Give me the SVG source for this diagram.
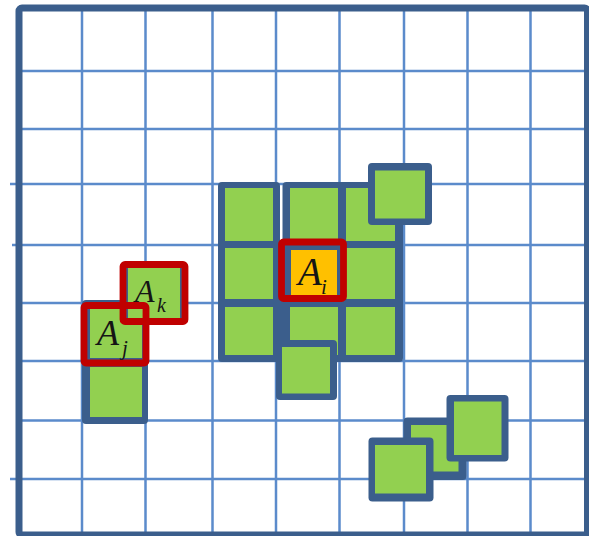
<svg xmlns="http://www.w3.org/2000/svg" width="589" height="536" viewBox="0 0 589 536">
<style>
.grid{stroke:#5B8BCB;stroke-width:2.5;fill:none}
.frame{stroke:#3B5E8C;stroke-width:7;fill:none}
.dk{fill:#3B5E8C}
.gr{fill:#92D050}
.or{fill:#FFC000}
.red{fill:none;stroke:#C00000;stroke-width:6.8}
.lbl{font-family:"Liberation Serif","Times New Roman",serif;font-style:italic;fill:#151515}
</style>
<rect width="589" height="536" fill="#ffffff"/>
<g id="grid">
<path class="grid" d="M82 8V535M145.5 8V535M212.5 8V535M276 8V535M339.5 8V535M404 8V535M467.5 8V535M530.5 8V535"/>
<path class="grid" d="M19 71H587M19 129H587M10 184H587M12 245H587M19 303H587M19 361H587M19 420.5H587M10 479H587"/>
<rect class="frame" x="19" y="8" width="568.5" height="527" rx="3"/>
</g>
<g id="cluster-center">
<rect class="dk" x="218" y="182" width="62" height="180" rx="4"/>
<rect class="dk" x="282.5" y="182" width="120.5" height="180" rx="4"/>
<rect class="dk" x="277" y="240" width="8" height="122"/>
<rect class="gr" x="225" y="188" width="48" height="53"/>
<rect class="gr" x="290" y="188" width="48" height="53"/>
<rect class="gr" x="346" y="188" width="49" height="53"/>
<rect class="gr" x="225" y="248" width="48" height="51"/>
<rect class="gr" x="346" y="248" width="49" height="51"/>
<rect class="gr" x="225" y="307" width="48" height="48"/>
<rect class="gr" x="290" y="307" width="48" height="48"/>
<rect class="gr" x="346" y="307" width="49" height="48"/>
</g>
<g id="cell-top-right">
<rect class="dk" x="368" y="163" width="64" height="62" rx="4"/>
<rect class="gr" x="375" y="170.5" width="50" height="48"/>
</g>
<g id="cell-bottom">
<rect class="dk" x="276" y="340" width="61" height="60" rx="4"/>
<rect class="gr" x="282" y="347" width="48" height="46.5"/>
</g>
<g id="cell-Ai">
<rect class="dk" x="281" y="242" width="62" height="56"/>
<rect class="or" x="291" y="250" width="46" height="46"/>
<rect class="red" x="281.5" y="242" width="62" height="56.5" rx="2"/>
<text class="lbl" x="298" y="285" font-size="39">A</text>
<text class="lbl" x="321" y="294" font-size="21">i</text>
</g>
<g id="column-left">
<rect class="dk" x="82" y="300" width="66" height="124" rx="4"/>
<rect class="gr" x="90" y="309" width="52" height="49"/>
<rect class="gr" x="90" y="367" width="52" height="50"/>
</g>
<g id="cell-Ak">
<rect class="dk" x="124" y="265" width="60" height="56"/>
<rect class="gr" x="128" y="268" width="52" height="50"/>
</g>
<g id="cell-Aj">
<rect class="red" x="84" y="305.5" width="62" height="57.5" rx="2"/>
<text class="lbl" x="97" y="345" font-size="36">A</text>
<text class="lbl" x="122" y="355" font-size="21">j</text>
</g>
<g id="cell-Ak-label">
<rect class="red" x="123" y="264.5" width="62" height="57" rx="2"/>
<text class="lbl" x="135" y="302" font-size="32">A</text>
<text class="lbl" x="157" y="312" font-size="20">k</text>
</g>
<g id="cluster-bottom-right">
<rect class="dk" x="403.5" y="417.5" width="63" height="62.5" rx="4"/>
<rect class="gr" x="411" y="425" width="47.5" height="46.5"/>
<rect class="dk" x="446.5" y="395" width="62" height="66.5" rx="4"/>
<rect class="gr" x="454" y="401.5" width="47.5" height="53.5"/>
<rect class="dk" x="368.5" y="437.5" width="65" height="64" rx="4"/>
<rect class="gr" x="375" y="445" width="51" height="48.5"/>
</g>
</svg>
